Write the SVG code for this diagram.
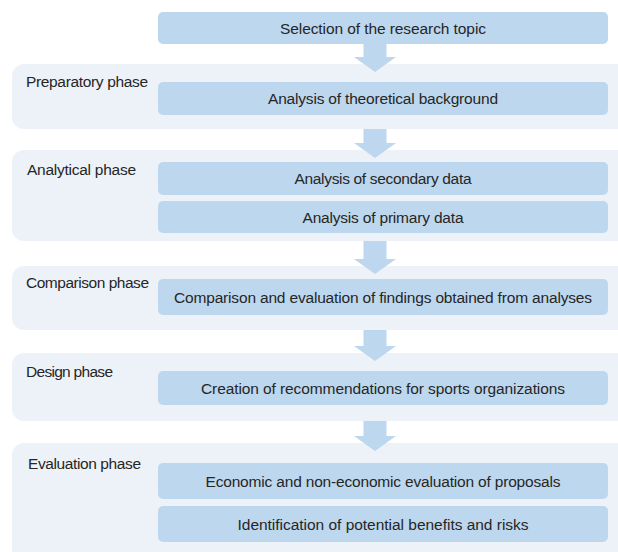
<svg xmlns="http://www.w3.org/2000/svg" width="618" height="552" viewBox="0 0 618 552">
  <style>
    .panel { fill: #EDF2F9; }
    .step { fill: #BDD7EE; }
    .arrow { fill: #BDD7EE; }
    text { font-family: "Liberation Sans", Arial, sans-serif; font-size: 15.5px; fill: #262626; }
    .step-label { text-anchor: middle; }
  </style>

  <!-- phase panels -->
  <g id="phase-preparatory">
    <rect class="panel" x="12" y="64" width="620" height="65" rx="12"/>
    <text x="26" y="87" textLength="122">Preparatory phase</text>
  </g>
  <g id="phase-analytical">
    <rect class="panel" x="12" y="150" width="620" height="91" rx="12"/>
    <text x="27" y="175" textLength="109">Analytical phase</text>
  </g>
  <g id="phase-comparison">
    <rect class="panel" x="12" y="266" width="620" height="64" rx="12"/>
    <text x="26" y="288" textLength="123">Comparison phase</text>
  </g>
  <g id="phase-design">
    <rect class="panel" x="12" y="353" width="620" height="68" rx="12"/>
    <text x="26" y="377" textLength="87">Design phase</text>
  </g>
  <g id="phase-evaluation">
    <rect class="panel" x="12" y="443" width="620" height="120" rx="12"/>
    <text x="28" y="469" textLength="113">Evaluation phase</text>
  </g>

  <!-- flow arrows -->
  <g id="connectors">
    <polygon class="arrow" points="363.5,44 386.5,44 386.5,57 396,57 375,72 354,57 363.5,57"/>
    <polygon class="arrow" points="363.5,129 386.5,129 386.5,143 396,143 375,158 354,143 363.5,143"/>
    <polygon class="arrow" points="363.5,241 386.5,241 386.5,259 396,259 375,274 354,259 363.5,259"/>
    <polygon class="arrow" points="363.5,330 386.5,330 386.5,346 396,346 375,361 354,346 363.5,346"/>
    <polygon class="arrow" points="363.5,421 386.5,421 386.5,436 396,436 375,451 354,436 363.5,436"/>
  </g>

  <!-- steps -->
  <g id="step-topic">
    <rect class="step" x="158" y="12" width="450" height="32" rx="5"/>
    <text class="step-label" x="383" y="33.5" textLength="206">Selection of the research topic</text>
  </g>
  <g id="step-theory">
    <rect class="step" x="158" y="82" width="450" height="33" rx="5"/>
    <text class="step-label" x="383" y="104" textLength="230">Analysis of theoretical background</text>
  </g>
  <g id="step-secondary">
    <rect class="step" x="158" y="162" width="450" height="33" rx="5"/>
    <text class="step-label" x="383" y="184" textLength="177">Analysis of secondary data</text>
  </g>
  <g id="step-primary">
    <rect class="step" x="158" y="201" width="450" height="32" rx="5"/>
    <text class="step-label" x="383" y="222.5" textLength="161">Analysis of primary data</text>
  </g>
  <g id="step-comparison">
    <rect class="step" x="158" y="279" width="450" height="36" rx="5"/>
    <text class="step-label" x="383" y="302.5" textLength="418">Comparison and evaluation of findings obtained from analyses</text>
  </g>
  <g id="step-recommendations">
    <rect class="step" x="158" y="371" width="450" height="34" rx="5"/>
    <text class="step-label" x="383" y="393.5" textLength="364">Creation of recommendations for sports organizations</text>
  </g>
  <g id="step-economic">
    <rect class="step" x="158" y="463" width="450" height="36" rx="5"/>
    <text class="step-label" x="383" y="486.5" textLength="355">Economic and non-economic evaluation of proposals</text>
  </g>
  <g id="step-benefits">
    <rect class="step" x="158" y="506" width="450" height="36" rx="5"/>
    <text class="step-label" x="383" y="529.5" textLength="291">Identification of potential benefits and risks</text>
  </g>
</svg>
